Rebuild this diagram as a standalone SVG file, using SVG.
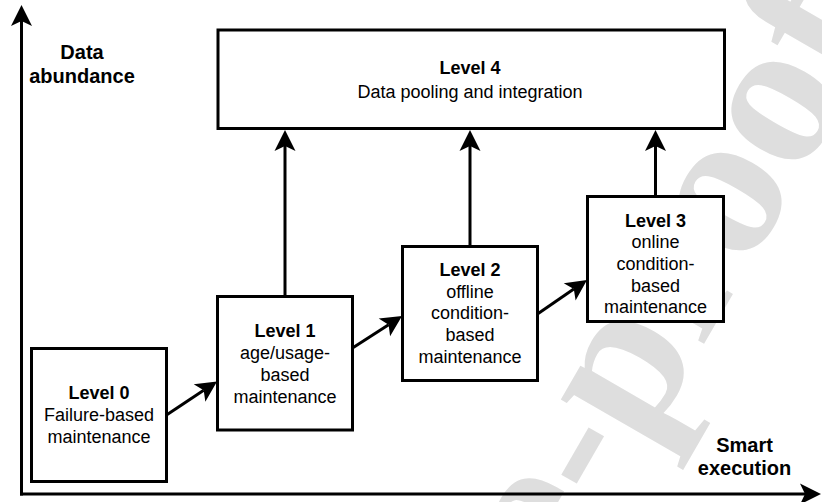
<svg xmlns="http://www.w3.org/2000/svg" width="822" height="502" viewBox="0 0 822 502">
  <defs>
    <marker id="arrow" markerUnits="userSpaceOnUse" markerWidth="22" markerHeight="22" refX="5" refY="11" orient="auto" overflow="visible">
      <path d="M21,11 L0,0.5 L5,11 L0,21.5 Z" fill="#000"/>
    </marker>
  </defs>
  <style>
    .box { fill: #fff; stroke: #000; stroke-width: 3; }
    .edge { fill: none; stroke: #000; stroke-width: 3; marker-end: url(#arrow); }
    .t { font-family: "Liberation Sans", Arial, sans-serif; font-size: 18px; fill: #000; text-anchor: middle; }
    .b { font-weight: bold; }
    .axis { font-family: "Liberation Sans", Arial, sans-serif; font-size: 20px; font-weight: bold; fill: #000; text-anchor: middle; }
    .wm { font-family: "Liberation Serif", "Times New Roman", serif; font-size: 210px; font-weight: bold; fill: #dedede; }
  </style>
  <rect width="822" height="502" fill="#fff"/>

  <text class="wm" transform="translate(674,396) rotate(-60)" x="-1195.7" y="0">Journal Pre-proof</text>

  <g id="connectors">
    <line class="edge" x1="21.5" y1="495.5" x2="21.5" y2="21"/>
    <line class="edge" x1="20" y1="494" x2="805" y2="494"/>
    <line class="edge" x1="285" y1="296.5" x2="285" y2="146"/>
    <line class="edge" x1="470" y1="246.5" x2="470" y2="146"/>
    <line class="edge" x1="655.5" y1="196.5" x2="655.5" y2="146"/>
    <line class="edge" x1="166.5" y1="415" x2="203.7" y2="390.3"/>
    <line class="edge" x1="352.5" y1="348" x2="388.6" y2="324.7"/>
    <line class="edge" x1="537.5" y1="314" x2="573.8" y2="289.1"/>
  </g>

  <g id="axis-y">
    <text class="axis" x="82" y="59.3">Data</text>
    <text class="axis" x="82" y="83.3">abundance</text>
  </g>
  <g id="axis-x">
    <text class="axis" x="744.5" y="451.7">Smart</text>
    <text class="axis" x="744.5" y="475">execution</text>
  </g>

  <g id="level4">
    <rect class="box" x="218" y="30" width="506.5" height="98.5"/>
    <text class="t b" x="470" y="74">Level 4</text>
    <text class="t" x="470" y="98">Data pooling and integration</text>
  </g>

  <g id="level0">
    <rect class="box" x="31.5" y="348.5" width="135" height="133"/>
    <text class="t b" x="99" y="399">Level 0</text>
    <text class="t" x="99" y="420.8">Failure-based</text>
    <text class="t" x="99" y="442.6">maintenance</text>
  </g>

  <g id="level1">
    <rect class="box" x="217.5" y="296.5" width="135" height="133.5"/>
    <text class="t b" x="285" y="336.5">Level 1</text>
    <text class="t" x="285" y="358.6">age/usage-</text>
    <text class="t" x="285" y="380.7">based</text>
    <text class="t" x="285" y="402.8">maintenance</text>
  </g>

  <g id="level2">
    <rect class="box" x="402.5" y="246.5" width="135" height="134"/>
    <text class="t b" x="470" y="275.7">Level 2</text>
    <text class="t" x="470" y="297.5">offline</text>
    <text class="t" x="470" y="319.3">condition-</text>
    <text class="t" x="470" y="341.1">based</text>
    <text class="t" x="470" y="362.9">maintenance</text>
  </g>

  <g id="level3">
    <rect class="box" x="587.5" y="196.5" width="136" height="125"/>
    <text class="t b" x="655.5" y="226.7">Level 3</text>
    <text class="t" x="655.5" y="248.3">online</text>
    <text class="t" x="655.5" y="269.9">condition-</text>
    <text class="t" x="655.5" y="291.5">based</text>
    <text class="t" x="655.5" y="313.1">maintenance</text>
  </g>
</svg>
